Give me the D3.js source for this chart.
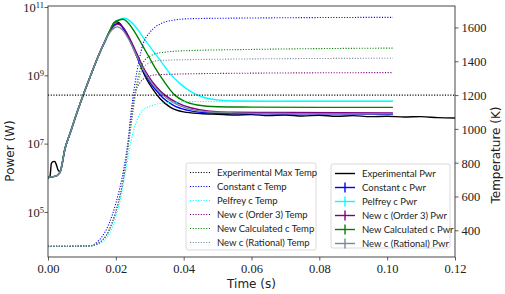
<!DOCTYPE html>
<html>
<head>
<meta charset="utf-8">
<script src="https://cdn.jsdelivr.net/npm/d3@7"></script>
<style>
  body { margin: 0; background: #fff; }
</style>
</head>
<body>
<svg id="chart" width="505" height="294"></svg>
<script>
// ---- data (power values stored as log10 W, temperatures in K) ----
const xTicks = [0, 0.02, 0.04, 0.06, 0.08, 0.10, 0.12];
const powerTicks = [5, 7, 9, 11];
const tempTicks = [400, 600, 800, 1000, 1200, 1400, 1600];

const pwrExperimental = [[0,5.98],[0.0006,6.05],[0.001,6.42],[0.0015,6.47],[0.002,6.48],[0.0024,6.4],[0.003,6.22],[0.0036,6.18],
  [0.005,6.85],[0.0065,7.3],[0.0094,8.15],[0.0124,8.95],[0.015,9.6],[0.0168,10.0],[0.0182,10.3],[0.0192,10.5],[0.0200,10.57],
  [0.021,10.54],[0.0225,10.33],[0.025,9.85],[0.027,9.35],[0.029,8.9],[0.031,8.58],[0.033,8.32],[0.036,8.07],[0.040,7.93],
  [0.045,7.88],[0.05,7.86],[0.055,7.84],[0.06,7.85],[0.065,7.82],[0.07,7.84],[0.075,7.81],[0.08,7.83],[0.085,7.8],
  [0.09,7.82],[0.095,7.79],[0.1,7.8],[0.105,7.78],[0.11,7.79],[0.115,7.76],[0.12,7.75]];
const pwrConstant = [[0,6.02],[0.002,6.04],[0.0035,6.15],[0.005,6.85],[0.0065,7.3],[0.0094,8.15],[0.0124,8.95],[0.015,9.6],
  [0.0168,10.0],[0.0182,10.28],[0.0195,10.47],[0.0206,10.52],[0.022,10.4],[0.024,10.05],[0.026,9.6],[0.028,9.15],[0.030,8.8],
  [0.032,8.55],[0.034,8.33],[0.037,8.12],[0.041,7.98],[0.046,7.91],[0.055,7.88],[0.07,7.87],[0.085,7.87],[0.1017,7.86]];
const pwrPelfrey = [[0,6.02],[0.002,6.04],[0.0035,6.15],[0.005,6.85],[0.0065,7.3],[0.0094,8.15],[0.0124,8.95],[0.015,9.6],
  [0.0168,10.0],[0.0182,10.3],[0.0195,10.55],[0.021,10.63],[0.0227,10.67],[0.024,10.6],[0.026,10.4],[0.028,10.12],[0.030,9.85],
  [0.033,9.45],[0.036,9.05],[0.039,8.75],[0.0425,8.5],[0.046,8.35],[0.05,8.28],[0.055,8.25],[0.07,8.24],[0.1017,8.24]];
const pwrOrder3 = [[0,6.02],[0.002,6.04],[0.0035,6.15],[0.005,6.85],[0.0065,7.3],[0.0094,8.15],[0.0124,8.95],[0.015,9.6],
  [0.0168,10.0],[0.0182,10.28],[0.0195,10.45],[0.0206,10.5],[0.022,10.42],[0.024,10.1],[0.026,9.68],[0.028,9.25],[0.030,8.92],
  [0.032,8.66],[0.0345,8.42],[0.038,8.2],[0.042,8.05],[0.047,7.96],[0.055,7.92],[0.07,7.91],[0.1017,7.9]];
const pwrCalculated = [[0,6.02],[0.002,6.04],[0.0035,6.15],[0.005,6.85],[0.0065,7.3],[0.0094,8.15],[0.0124,8.95],[0.015,9.6],
  [0.0168,10.0],[0.0182,10.3],[0.0195,10.55],[0.021,10.62],[0.0221,10.64],[0.0235,10.55],[0.026,10.2],[0.028,9.85],[0.030,9.5],
  [0.032,9.15],[0.034,8.85],[0.0374,8.42],[0.040,8.25],[0.044,8.13],[0.05,8.08],[0.06,8.07],[0.08,8.06],[0.1017,8.06]];
const pwrRational = [[0,6.02],[0.002,6.04],[0.0035,6.15],[0.005,6.85],[0.0065,7.3],[0.0094,8.15],[0.0124,8.95],[0.015,9.6],
  [0.0168,10.0],[0.0182,10.25],[0.0195,10.38],[0.0205,10.42],[0.022,10.33],[0.024,10.02],[0.026,9.6],[0.028,9.18],[0.030,8.85],
  [0.032,8.6],[0.034,8.41],[0.037,8.2],[0.041,8.03],[0.046,7.94],[0.055,7.9],[0.07,7.88],[0.1017,7.87]];

const tempExperimentalMax = [[0,1200],[0.12,1200]];
const tempConstant = [[0,305],[0.012,308],[0.015,340],[0.018,440],[0.020,560],[0.0223,760],[0.0236,930],[0.0245,1100],
  [0.0255,1250],[0.027,1420],[0.028,1500],[0.030,1570],[0.033,1620],[0.036,1640],[0.042,1652],[0.06,1656],[0.1017,1660]];
const tempPelfrey = [[0,305],[0.012,306],[0.016,330],[0.019,420],[0.021,550],[0.023,760],[0.0245,930],[0.026,1040],
  [0.028,1111],[0.031,1140],[0.035,1155],[0.045,1162],[0.1017,1165]];
const tempOrder3 = [[0,305],[0.012,307],[0.015,325],[0.018,400],[0.020,510],[0.022,680],[0.0235,880],[0.0245,1060],
  [0.0255,1200],[0.027,1270],[0.029,1305],[0.032,1320],[0.05,1328],[0.1017,1333]];
const tempCalculated = [[0,305],[0.012,307],[0.015,325],[0.018,400],[0.020,510],[0.022,680],[0.0235,880],[0.0248,1080],
  [0.0258,1220],[0.027,1340],[0.028,1390],[0.030,1430],[0.033,1450],[0.04,1462],[0.06,1470],[0.1017,1478]];
const tempRational = [[0,305],[0.012,307],[0.015,325],[0.018,400],[0.020,510],[0.022,680],[0.0235,880],[0.0248,1060],
  [0.0258,1200],[0.027,1310],[0.028,1360],[0.030,1390],[0.033,1405],[0.05,1412],[0.1017,1418]];

const pwrSeries = [
  {name: "Experimental Pwr", color: "black", data: pwrExperimental, bar: false},
  {name: "Constant c Pwr", color: "blue", data: pwrConstant, bar: true},
  {name: "Pelfrey c Pwr", color: "cyan", data: pwrPelfrey, bar: true},
  {name: "New c (Order 3) Pwr", color: "purple", data: pwrOrder3, bar: true},
  {name: "New Calculated c Pwr", color: "green", data: pwrCalculated, bar: true},
  {name: "New c (Rational) Pwr", color: "lightslategrey", data: pwrRational, bar: true}
];
const tempSeries = [
  {name: "Experimental Max Temp", color: "black", data: tempExperimentalMax},
  {name: "Constant c Temp", color: "blue", data: tempConstant},
  {name: "Pelfrey c Temp", color: "cyan", data: tempPelfrey},
  {name: "New c (Order 3) Temp", color: "purple", data: tempOrder3},
  {name: "New Calculated c Temp", color: "green", data: tempCalculated},
  {name: "New c (Rational) Temp", color: "lightslategrey", data: tempRational}
];

// ---- layout ----
const plot = {left: 48, right: 455, top: 6, bottom: 257};
const serif = "Liberation Serif";
const sans = "DejaVu Sans";
const svg = d3.select("#chart");

const x = d3.scaleLinear().domain([0, 0.12]).range([plot.left, plot.right]);
const yPwr = d3.scaleLog().domain([Math.pow(10, 3.68), Math.pow(10, 11.03)]).range([plot.bottom, plot.top]);
const yTemp = d3.scaleLinear().domain([242, 1727]).range([plot.bottom, plot.top]);

svg.append("defs").append("clipPath").attr("id", "clip")
  .append("rect").attr("x", plot.left).attr("y", plot.top)
  .attr("width", plot.right - plot.left).attr("height", plot.bottom - plot.top);

const pwrLine = d3.line()
  .x(d => x(d[0])).y(d => yPwr(Math.pow(10, d[1])))
  .curve(d3.curveMonotoneX);
const tempLine = d3.line()
  .x(d => x(d[0])).y(d => yTemp(d[1]))
  .curve(d3.curveMonotoneX);

const marks = svg.append("g").attr("clip-path", "url(#clip)");
marks.selectAll(".pwr").data(pwrSeries).enter().append("path")
  .attr("class", "pwr")
  .attr("d", d => pwrLine(d.data))
  .attr("fill", "none")
  .attr("stroke", d => d.color)
  .attr("stroke-width", 1.4)
  .attr("stroke-linejoin", "round");

marks.selectAll(".temp").data(tempSeries).enter().append("path")
  .attr("class", "temp")
  .attr("d", d => tempLine(d.data))
  .attr("fill", "none")
  .attr("stroke", d => d.color)
  .attr("stroke-width", 1.1)
  .attr("stroke-dasharray", "1.1,1.6");

// ---- axes ----
const spine = "#333";
const xAxis = svg.append("g").attr("transform", `translate(0,${plot.bottom})`)
  .call(d3.axisBottom(x).tickValues(xTicks).tickSize(3.5).tickPadding(3).tickFormat(d3.format(".2f")));
const leftAxis = svg.append("g").attr("transform", `translate(${plot.left},0)`)
  .call(d3.axisLeft(yPwr).tickValues(powerTicks.map(p => Math.pow(10, p))).tickSize(3.5).tickPadding(3).tickFormat(""));
const rightAxis = svg.append("g").attr("transform", `translate(${plot.right},0)`)
  .call(d3.axisRight(yTemp).tickValues(tempTicks).tickSize(3.5).tickPadding(3).tickFormat(d3.format("d")));

[xAxis, leftAxis, rightAxis].forEach(a => {
  a.select(".domain").remove();
  a.selectAll(".tick line").attr("stroke", spine).attr("stroke-width", 0.8);
  a.selectAll(".tick text").attr("fill", "#222")
    .style("font-family", serif).style("font-size", "12.5px");
});
xAxis.selectAll(".tick text").attr("dy", "0.72em");
rightAxis.selectAll(".tick text").attr("dy", "0.35em");

// power tick labels with superscripts
leftAxis.selectAll(".tick").each(function(d) {
  const t = d3.select(this).append("text")
    .attr("fill", "#222")
    .style("font-family", serif).style("font-size", "12.5px")
    .attr("x", -4).attr("dy", "0.35em")
    .attr("text-anchor", "end");
  t.append("tspan").text("10");
  t.append("tspan").attr("dy", "-0.45em").style("font-size", "8.5px").text(Math.round(Math.log10(d)));
});

svg.append("rect")
  .attr("x", plot.left).attr("y", plot.top)
  .attr("width", plot.right - plot.left).attr("height", plot.bottom - plot.top)
  .attr("fill", "none").attr("stroke", spine).attr("stroke-width", 0.9);

const labels = svg.append("g").style("font-family", sans).style("font-size", "12px").attr("fill", "#222");
labels.append("text")
  .attr("x", (plot.left + plot.right) / 2).attr("y", 288)
  .attr("text-anchor", "middle").text("Time (s)");
labels.append("text")
  .attr("transform", `translate(14,151)rotate(-90)`)
  .attr("text-anchor", "middle").text("Power (W)");
labels.append("text")
  .attr("transform", `translate(500,155)rotate(-90)`)
  .attr("text-anchor", "middle").text("Temperature (K)");

// ---- legends ----
function legend(series, box, dotted) {
  const g = svg.append("g").attr("transform", `translate(${box.x},${box.y})`);
  g.append("rect").attr("width", box.w).attr("height", box.h).attr("rx", 2)
    .attr("fill", "white").attr("fill-opacity", 0.85)
    .attr("stroke", "#d0d0d0").attr("stroke-width", 0.8);
  const rows = g.selectAll(".row").data(series).enter().append("g")
    .attr("transform", (d, i) => `translate(0,${9.5 + i * 14})`);
  rows.append("line").attr("x1", 4).attr("x2", 24)
    .attr("stroke", d => d.color)
    .attr("stroke-width", dotted ? 1.1 : 1.4)
    .attr("stroke-dasharray", dotted ? "1.1,1.6" : null);
  if (!dotted) {
    rows.filter(d => d.bar).append("line")
      .attr("x1", 14).attr("x2", 14).attr("y1", -5).attr("y2", 5)
      .attr("stroke", d => d.color).attr("stroke-width", 1.4);
  }
  rows.append("text")
    .style("font-family", "Lato").style("font-size", "9.5px").attr("fill", "#222")
    .attr("x", 31).attr("dy", "0.35em").text(d => d.name);
}
legend(tempSeries, {x: 186, y: 163, w: 130, h: 87}, true);
legend(pwrSeries, {x: 331, y: 164, w: 119, h: 84}, false);
</script>
</body>
</html>
